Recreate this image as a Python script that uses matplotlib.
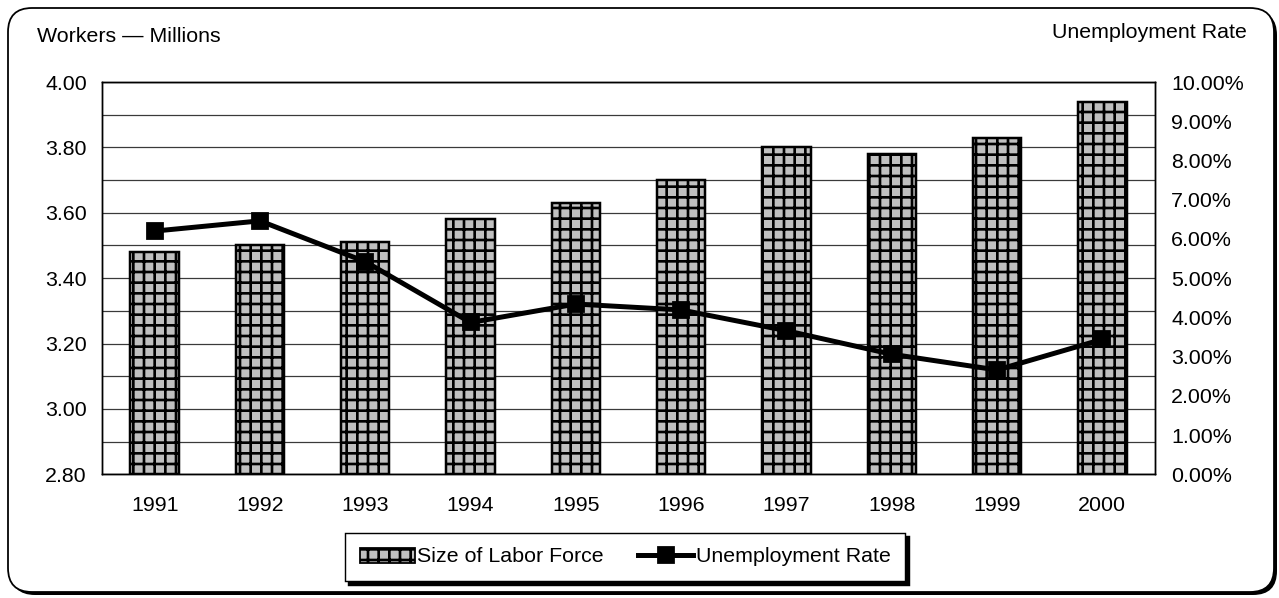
import matplotlib
matplotlib.use("Agg")
import matplotlib.pyplot as plt
from matplotlib.patches import FancyBboxPatch
from matplotlib.lines import Line2D
from matplotlib.patches import Patch
from matplotlib.ticker import FixedLocator, FuncFormatter

plt.rcParams['font.family'] = ['Liberation Sans', 'DejaVu Sans']
plt.rcParams['hatch.linewidth'] = 1.5
plt.rcParams['hatch.color'] = 'black'

years = ['1991', '1992', '1993', '1994', '1995', '1996', '1997', '1998', '1999', '2000']
labor_force = [3.48, 3.50, 3.51, 3.58, 3.63, 3.70, 3.80, 3.78, 3.83, 3.94]
unemployment_pct = [6.20, 6.46, 5.42, 3.87, 4.34, 4.19, 3.66, 3.06, 2.66, 3.44]
left_ticks = [2.80, 3.00, 3.20, 3.40, 3.60, 3.80, 4.00]
right_ticks = [0, 1, 2, 3, 4, 5, 6, 7, 8, 9, 10]

DPI = 128
W, H = 1279, 598
FS = 12
fig = plt.figure(figsize=(W / DPI, H / DPI), dpi=DPI)

# rounded outer frame with a drop shadow
shadow = FancyBboxPatch((11, 3), 1266, 584, boxstyle="round,pad=0,rounding_size=24",
                        transform=None, facecolor='black', edgecolor='black', lw=0, zorder=0)
frame = FancyBboxPatch((8, 6), 1266, 584, boxstyle="round,pad=0,rounding_size=24",
                       transform=None, facecolor='white', edgecolor='black', lw=1.0, zorder=1)
fig.patches.extend([shadow, frame])

ax = fig.add_axes([102 / W, 1 - 474.3 / H, (1155 - 102) / W, (474.3 - 82) / H])
ax.set_zorder(2)
x = list(range(len(years)))
ax.bar(x, [v - 2.8 for v in labor_force], bottom=2.8, width=0.46,
       facecolor='#c0c0c0', edgecolor='black', hatch='++', linewidth=1.4, zorder=3)
ax.set_xlim(-0.5, len(years) - 0.5)
ax.set_ylim(2.8, 4.0)
ax.yaxis.set_major_locator(FixedLocator(left_ticks))
ax.yaxis.set_minor_locator(FixedLocator([2.9, 3.1, 3.3, 3.5, 3.7, 3.9]))
ax.yaxis.set_major_formatter(FuncFormatter(lambda v, p: f"{v:.2f}"))
ax.grid(axis='y', which='both', color='#3a3a3a', linewidth=0.7, zorder=1)
ax.set_axisbelow(True)
ax.set_xticks(x)
ax.set_xticklabels(years)
ax.tick_params(axis='both', which='both', length=0, labelsize=FS, colors='black')
ax.tick_params(axis='y', pad=8.5)
ax.tick_params(axis='x', pad=12)
for s in ax.spines.values():
    s.set_color('black')
    s.set_linewidth(0.8)

ax2 = ax.twinx()
ax2.plot(x, unemployment_pct, color='black', linewidth=2.8, marker='s',
         markersize=8.5, markerfacecolor='black', markeredgecolor='black', zorder=4)
ax2.set_ylim(0, 10)
ax2.yaxis.set_major_locator(FixedLocator(right_ticks))
ax2.yaxis.set_major_formatter(FuncFormatter(lambda v, p: f"{v:.2f}%"))
ax2.tick_params(axis='y', length=0, labelsize=FS, pad=9, colors='black')
for s in ax2.spines.values():
    s.set_color('black')
    s.set_linewidth(0.8)

fig.text(37 / W, 1 - 37 / H, "Workers \u2014 Millions", ha='left', va='center', fontsize=FS)
fig.text(1247 / W, 1 - 33 / H, "Unemployment Rate", ha='right', va='center', fontsize=FS)

handles = [Patch(facecolor='#c0c0c0', edgecolor='black', hatch='++', linewidth=1.0),
           Line2D([0], [0], color='black', linewidth=2.8, marker='s', markersize=8.5)]
leg = fig.legend(handles, ['Size of Labor Force', 'Unemployment Rate'], ncol=2,
                 loc='center', bbox_to_anchor=(625 / W, 1 - 557 / H), fontsize=FS,
                 frameon=True, fancybox=False, shadow={'color': 'black', 'alpha': 1},
                 edgecolor='black', framealpha=1, handlelength=2.6, handletextpad=0.1,
                 columnspacing=1.6, borderpad=0.7, borderaxespad=0)
leg.get_frame().set_linewidth(0.8)

fig.savefig("out.png", dpi=DPI)
